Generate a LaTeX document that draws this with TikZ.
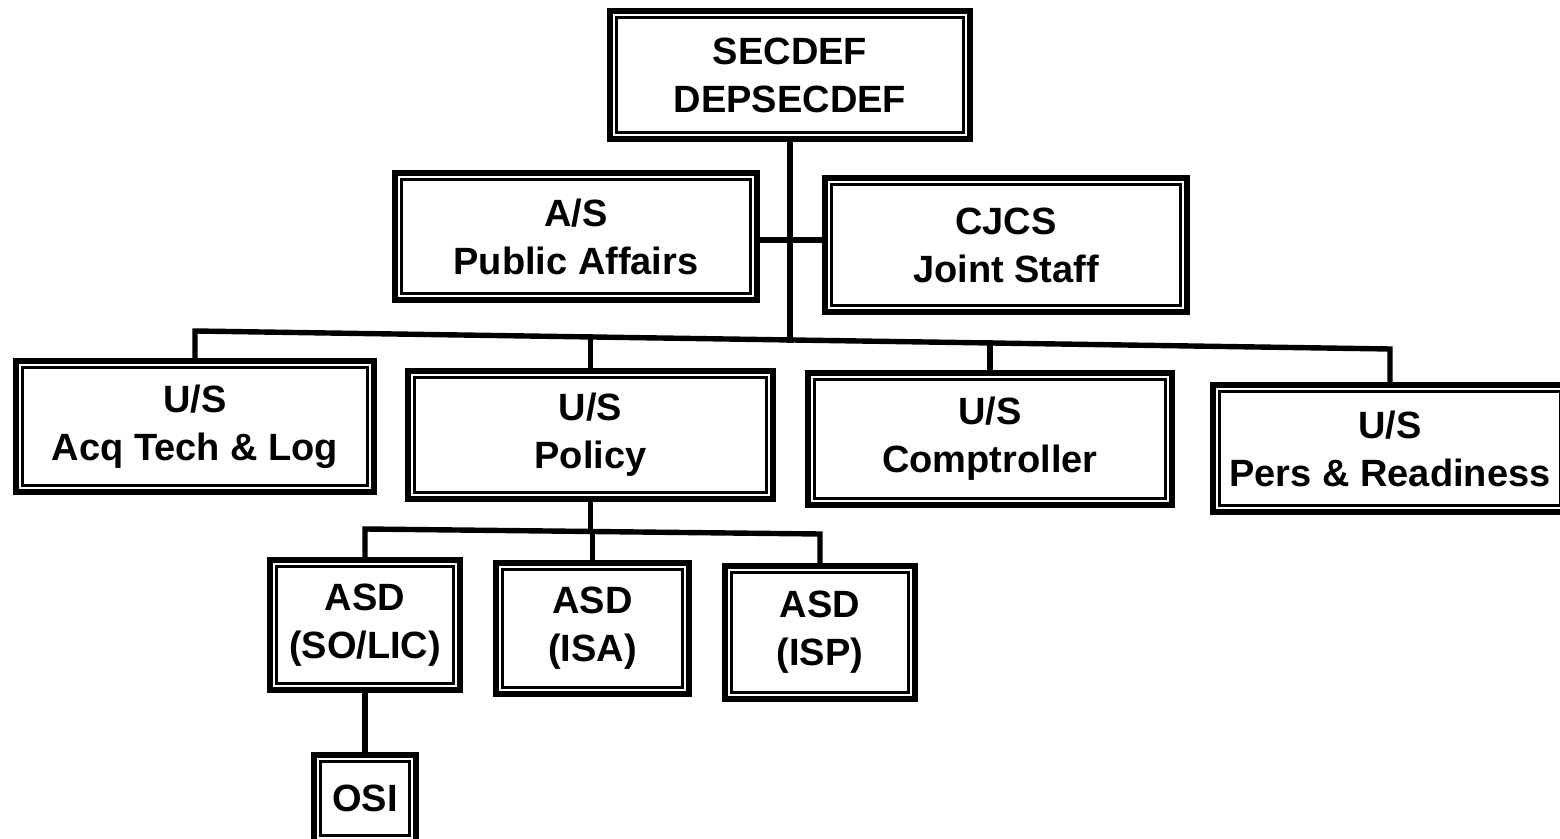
\documentclass[tikz,border=0pt]{standalone}
\usepackage{fontspec}
\setmainfont{Liberation Sans}
\usetikzlibrary{backgrounds}
\begin{document}
\begin{tikzpicture}[x=0.5pt,y=-0.5pt,
  orgbox/.style={draw, line width=3pt, fill=white, inner sep=0pt, align=center,
    font=\bfseries\fontsize{19}{24}\selectfont,
    path picture={\draw[line width=1.2pt]
      ([shift={(3.3pt,-3.3pt)}]path picture bounding box.north west) rectangle
      ([shift={(-3.3pt,3.3pt)}]path picture bounding box.south east);}},
  conn/.style={line width=2.7pt, line cap=rect}]
\useasboundingbox (0,0) rectangle (1560,839);

% boxes
\node[orgbox, minimum width=180pt, minimum height=64pt] (sec) at (790,75) {SECDEF\\DEPSECDEF};
\node[orgbox, minimum width=181pt, minimum height=63.5pt] (pa) at (576,236.5) {A/S\\Public Affairs};
\node[orgbox, minimum width=181pt, minimum height=67pt] (cjcs) at (1006,245) {CJCS\\Joint Staff};
\node[orgbox, minimum width=179pt, minimum height=65.5pt] (acq) at (195,426.5) {U/S\\Acq Tech \& Log};
\node[orgbox, minimum width=182.5pt, minimum height=64pt] (pol) at (590.5,435) {U/S\\Policy};
\node[orgbox, minimum width=182pt, minimum height=66pt] (comp) at (990,439) {U/S\\Comptroller};
\node[orgbox, minimum width=177pt, minimum height=63.5pt] (pers) at (1390,448.5) {U/S\\Pers \& Readiness};
\node[orgbox, minimum width=95pt, minimum height=65pt] (so) at (365,625) {ASD\\(SO/LIC)};
\node[orgbox, minimum width=96.5pt, minimum height=65.5pt] (isa) at (592.5,628.5) {ASD\\(ISA)};
\node[orgbox, minimum width=95pt, minimum height=66.5pt] (isp) at (820,632.5) {ASD\\(ISP)};
\node[orgbox, minimum width=51pt, minimum height=43.5pt] (osi) at (365,798.5) {OSI};

% bus coordinates
\coordinate (top) at (790,340);
\coordinate (hub) at (790,240);
\coordinate (bl) at (195,331);
\coordinate (br) at (1390,349);
\coordinate (pb) at (590.5,337);
\coordinate (cb) at (990,343);
\coordinate (sl) at (365,529);
\coordinate (sr) at (820,534);
\coordinate (pd) at (590.5,531);
\coordinate (id) at (592.5,531.5);

\begin{pgfonlayer}{background}
\fill[white] (0,0) rectangle (1560,839);
\draw[conn] (sec.south) -- (top);
\draw[conn] (pa.east |- hub) -- (cjcs.west |- hub);
\draw[conn] (acq.north) -- (bl) -- (br) -- (pers.north);
\draw[conn] (pol.north) -- (pb);
\draw[conn] (comp.north) -- (cb);
\draw[conn] (pol.south) -- (pd);
\draw[conn] (so.north) -- (sl) -- (sr) -- (isp.north);
\draw[conn] (isa.north) -- (id);
\draw[conn] (so.south) -- (osi.north);
\end{pgfonlayer}
\end{tikzpicture}
\end{document}
